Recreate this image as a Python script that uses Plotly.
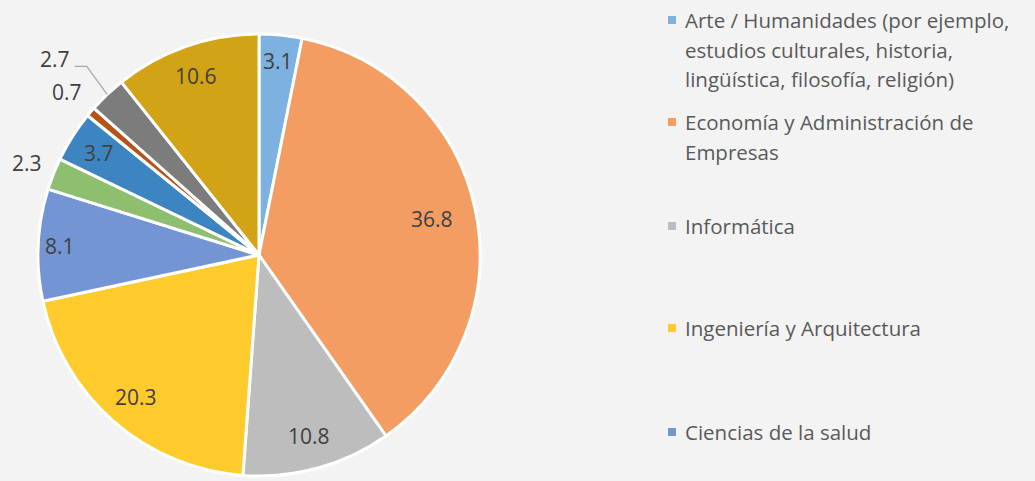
import math
import plotly.graph_objects as go

categories = [
    "Arte / Humanidades (por ejemplo, estudios culturales, historia, lingüística, filosofía, religión)",
    "Economía y Administración de Empresas",
    "Informática",
    "Ingeniería y Arquitectura",
    "Ciencias de la salud",
    "Ciencias naturales",
    "Matemáticas",
    "Derecho",
    "Otros",
    "Ciencias sociales",
]
values = [3.1, 36.8, 10.8, 20.3, 8.1, 2.3, 3.7, 0.7, 2.7, 10.6]
colors = ["#7db1e0", "#f39d63", "#bdbdbd", "#ffcb2c", "#7495d4",
          "#8dbf6e", "#3d85c0", "#b4521a", "#7c7c7c", "#d2a314"]
# label placement style: radius fraction for each slice label
label_radius = [0.88, 0.80, 0.85, 0.85, 0.90, 1.13, 0.86, 1.14, 1.2, 0.86]
leader = [False, False, False, False, False, False, False, False, True, False]

legend_entries = [
    ["Arte / Humanidades (por ejemplo,", "estudios culturales, historia,",
     "lingüística, filosofía, religión)"],
    ["Economía y Administración de", "Empresas"],
    ["Informática"],
    ["Ingeniería y Arquitectura"],
    ["Ciencias de la salud"],
]
legend_first_line_y = [20, 122, 226, 328, 432]
line_gap = 29.5

W, H = 1035, 481
CX, CY, R = 259, 255, 221

fig = go.Figure(go.Pie(
    labels=categories,
    values=values,
    sort=False,
    direction="clockwise",
    rotation=0,
    marker=dict(colors=colors, line=dict(color="white", width=3)),
    textinfo="none",
    domain=dict(x=[(CX - R) / W, (CX + R) / W], y=[(H - CY - R) / H, (H - CY + R) / H]),
    showlegend=False,
    hoverinfo="label+value",
))

# data labels placed at each slice's mid-angle
total = sum(values)
cum = 0.0
lbl_font = dict(family="Open Sans", size=21, color="#404040")
for v, f, ld in zip(values, label_radius, leader):
    mid = (cum + v / 2) / total * 2 * math.pi
    cum += v
    s, c = math.sin(mid), math.cos(mid)
    if ld:
        ex, ey = CX + R * s, CY - R * c
        bx, by = CX + f * R * s + 10, CY - f * R * c + 4
        hx = bx - 12
        fig.add_shape(type="path", xref="paper", yref="paper",
                      path=f"M{ex / W},{1 - ey / H} L{bx / W},{1 - by / H} L{hx / W},{1 - by / H}",
                      line=dict(color="#a6a6a6", width=1.2))
        fig.add_annotation(xref="paper", yref="paper", x=(hx - 3) / W, y=1 - (by - 7) / H,
                           xanchor="right", yanchor="middle", showarrow=False,
                           text=f"{v:.1f}", font=lbl_font)
    else:
        px, py = CX + f * R * s, CY - f * R * c
        fig.add_annotation(xref="paper", yref="paper", x=px / W, y=1 - py / H,
                           xanchor="center", yanchor="middle", showarrow=False,
                           text=f"{v:.1f}", font=lbl_font)

# legend (only the visible part)
for lines, color, y0 in zip(legend_entries, colors[:5], legend_first_line_y):
    for i, ln in enumerate(lines):
        fig.add_annotation(xref="paper", yref="paper", x=683 / W, y=1 - (y0 + i * line_gap) / H,
                           xanchor="left", yanchor="middle", align="left", showarrow=False,
                           text=ln, font=dict(family="Open Sans", size=20.5, color="#595959"))
    fig.add_shape(type="rect", xref="paper", yref="paper",
                  x0=668 / W, x1=676 / W, y0=1 - (y0 - 4) / H, y1=1 - (y0 + 4) / H,
                  fillcolor=color, line=dict(width=0))

fig.update_layout(
    width=W, height=H,
    margin=dict(l=0, r=0, t=0, b=0),
    paper_bgcolor="#f3f3f3",
    plot_bgcolor="#f3f3f3",
)
fig.write_html("out.html", include_plotlyjs=True,
               config={"displayModeBar": False},
               post_script="document.body.style.margin='0';")
